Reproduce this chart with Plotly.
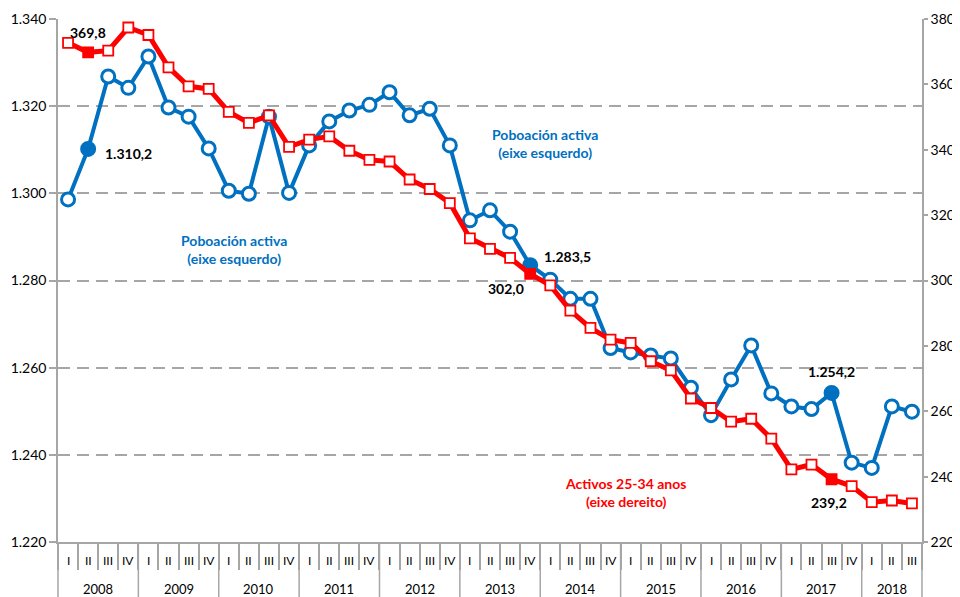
import plotly.graph_objects as go

year_labels = ["2008", "2009", "2010", "2011", "2012", "2013", "2014", "2015", "2016", "2017", "2018"]
quarter_labels = ["I", "II", "III", "IV"]
n_quarters_last = 3

years = []
quarters = []
for i, y in enumerate(year_labels):
    qs = quarter_labels if i < len(year_labels) - 1 else quarter_labels[:n_quarters_last]
    for q in qs:
        years.append(y)
        quarters.append(q)
categories = [y + " " + q for y, q in zip(years, quarters)]

poboacion_activa = [
    1298.6, 1310.2, 1326.8, 1324.2,
    1331.4, 1319.7, 1317.6, 1310.3,
    1300.6, 1299.9, 1317.6, 1300.1,
    1311.0, 1316.5, 1319.0, 1320.3,
    1323.2, 1317.9, 1319.4, 1311.0,
    1293.8, 1296.1, 1291.2, 1283.5,
    1280.2, 1275.8, 1275.8, 1264.5,
    1263.5, 1262.8, 1262.1, 1255.4,
    1249.1, 1257.3, 1265.1, 1254.1,
    1251.1, 1250.5, 1254.2, 1238.2,
    1237.0, 1251.1, 1249.9,
]

activos_25_34 = [
    372.7, 369.8, 370.3, 377.4,
    375.1, 365.2, 359.4, 358.6,
    351.6, 348.2, 350.5, 340.9,
    343.1, 344.1, 339.7, 336.9,
    336.4, 330.9, 328.0, 323.7,
    312.9, 309.7, 306.9, 302.0,
    298.5, 290.8, 285.5, 281.9,
    280.9, 275.3, 272.5, 263.9,
    261.0, 256.8, 257.7, 251.6,
    242.2, 243.7, 239.2, 237.1,
    232.2, 232.7, 231.8,
]

highlight_idx = [1, 23, 38]

BLUE = "#0070C0"
RED = "#FF0000"
GRAY = "#A6A6A6"
FONT = "Lato"

PLOT_H = 589 - 11 - 55  # plot area height in px
QTICK = 26              # quarter separator length in px
BOTTOM = 55             # year divider length in px

blue_fill = [BLUE if i in highlight_idx else "white" for i in range(len(poboacion_activa))]
red_fill = [RED if i in highlight_idx else "white" for i in range(len(activos_25_34))]

fig = go.Figure()

fig.add_trace(go.Scatter(
    x=categories, y=activos_25_34, yaxis="y2", mode="lines+markers",
    line=dict(color=RED, width=5),
    marker=dict(symbol="square", size=10, color=red_fill, line=dict(color=RED, width=1.8)),
    showlegend=False, cliponaxis=False,
))
fig.add_trace(go.Scatter(
    x=categories, y=poboacion_activa, mode="lines+markers",
    line=dict(color=BLUE, width=4),
    marker=dict(symbol="circle", size=13, color=blue_fill, line=dict(color=BLUE, width=3)),
    showlegend=False, cliponaxis=False,
))

# The page body has an 8px default margin, so the figure is 8px smaller
fig.update_layout(
    width=952, height=589,
    margin=dict(l=50, r=38, t=11, b=55),
    paper_bgcolor="white", plot_bgcolor="white",
    separators=",.",
    font=dict(family=FONT, size=13, color="black"),
    xaxis=dict(
        type="category", categoryorder="array", categoryarray=categories,
        showline=True, linecolor=GRAY, linewidth=1.5,
        ticks="outside", tickson="boundaries", ticklen=QTICK, tickcolor=GRAY, tickwidth=1.5,
        showticklabels=False, showgrid=False, automargin=False,
        range=[-0.5, len(categories) - 0.5],
    ),
    yaxis=dict(
        range=[1220, 1340], dtick=20, tickformat=",d",
        showline=True, linecolor=GRAY, linewidth=1.5,
        ticks="outside", ticklen=7, tickcolor=GRAY, tickwidth=1.5,
        showgrid=True, gridcolor=GRAY, gridwidth=1.5, griddash="12px,7px",
        zeroline=False, automargin=False,
        tickfont=dict(size=14, family=FONT),
    ),
    yaxis2=dict(
        range=[220, 380], dtick=20, overlaying="y", side="right",
        showline=True, linecolor=GRAY, linewidth=1.5,
        ticks="outside", ticklen=4, tickcolor=GRAY, tickwidth=1.5,
        showgrid=False, zeroline=False, automargin=False,
        tickfont=dict(size=14, family=FONT),
    ),
)

# quarter labels
for cat, q in zip(categories, quarters):
    fig.add_annotation(x=cat, xref="x", y=0, yref="paper", yanchor="middle", yshift=-18,
                       text=q, showarrow=False, font=dict(family=FONT, size=12, color="black"))

# year labels and year dividers
start = 0
for y in year_labels:
    n = years.count(y)
    fig.add_annotation(x=start + (n - 1) / 2, xref="x", y=0, yref="paper", yanchor="middle",
                       yshift=-47, text=y, showarrow=False,
                       font=dict(family=FONT, size=13, color="black"))
    if start > 0:
        fig.add_shape(type="line", xref="x", yref="paper", x0=start - 0.5, x1=start - 0.5,
                      y0=0, y1=-BOTTOM / PLOT_H, line=dict(color=GRAY, width=1.5))
    start += n
for xe in (0, 1):
    fig.add_shape(type="line", xref="paper", yref="paper", x0=xe, x1=xe,
                  y0=0, y1=-BOTTOM / PLOT_H, line=dict(color=GRAY, width=1.5))

ann_font = dict(family=FONT, size=14, color="black")
bold = lambda s: "<b>" + s + "</b>"

# value labels anchored at data points
fig.add_annotation(x=1, y=activos_25_34[1], yref="y2", text=bold("369,8"), showarrow=False,
                   font=ann_font, xshift=0, yshift=20)
fig.add_annotation(x=1, y=poboacion_activa[1], yref="y", text=bold("1.310,2"), showarrow=False,
                   font=ann_font, xshift=40, yshift=-5)
fig.add_annotation(x=23, y=poboacion_activa[23], yref="y", text=bold("1.283,5"), showarrow=False,
                   font=ann_font, xshift=37, yshift=9)
fig.add_annotation(x=23, y=activos_25_34[23], yref="y2", text=bold("302,0"), showarrow=False,
                   font=ann_font, xshift=-24, yshift=-15)
fig.add_annotation(x=38, y=poboacion_activa[38], yref="y", text=bold("1.254,2"), showarrow=False,
                   font=ann_font, xshift=0, yshift=21)
fig.add_annotation(x=38, y=activos_25_34[38], yref="y2", text=bold("239,2"), showarrow=False,
                   font=ann_font, xshift=-3, yshift=-23)

# series labels
fig.add_annotation(x=8.25, y=1287.2, yref="y", text=bold("Poboación activa<br>(eixe esquerdo)"),
                   showarrow=False, font=dict(family=FONT, size=14, color=BLUE), align="center")
fig.add_annotation(x=23.75, y=1311.5, yref="y", text=bold("Poboación activa<br>(eixe esquerdo)"),
                   showarrow=False, font=dict(family=FONT, size=14, color=BLUE), align="center")
fig.add_annotation(x=27.75, y=1231.3, yref="y", text=bold("Activos 25-34 anos<br>(eixe dereito)"),
                   showarrow=False, font=dict(family=FONT, size=14, color=RED), align="center")

fig.write_html("out.html")
